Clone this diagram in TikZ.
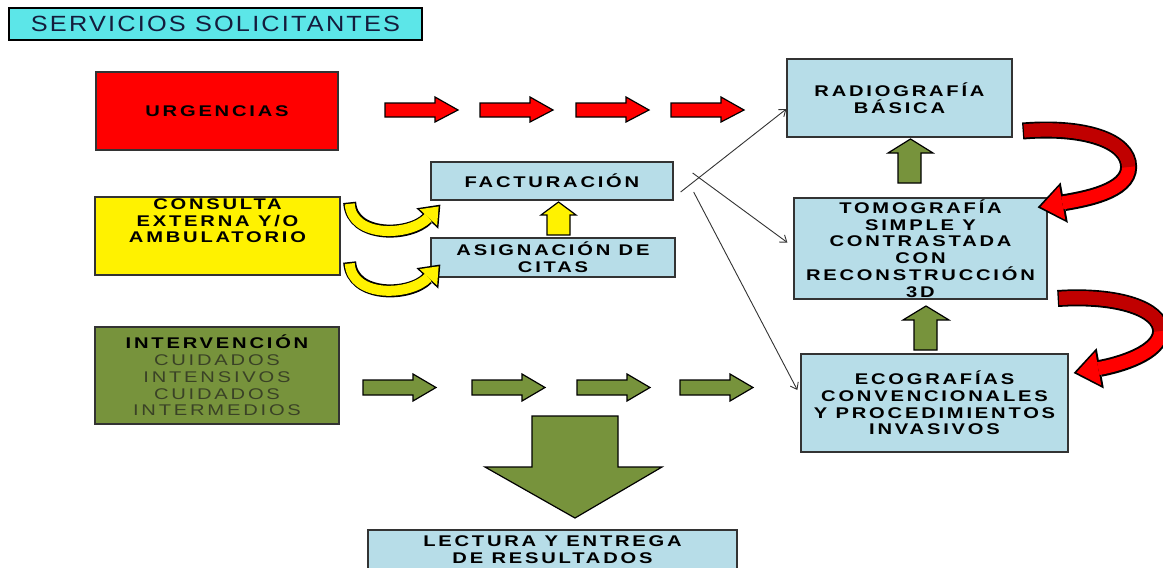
\documentclass[tikz,border=0pt]{standalone}
\usepackage{fontspec}
\usepackage{xcolor}
\usepackage{tikz}
\usetikzlibrary{arrows.meta,calc}

\newfontfamily\boxfont[FakeStretch=1.3,LetterSpace=18]{Liberation Sans}
\newfontfamily\titlefont[FakeStretch=1.15,LetterSpace=10]{Liberation Sans}

\definecolor{boxblue}{RGB}{183,221,232}
\definecolor{titlecyan}{RGB}{92,230,232}
\definecolor{olivebox}{RGB}{119,147,60}
\definecolor{darkred}{RGB}{192,0,0}
\definecolor{mutedtext}{RGB}{58,66,38}
\definecolor{titletext}{RGB}{20,28,60}

\begin{document}
\begin{tikzpicture}[x=1pt,y=-1pt,
    boxtext/.style={align=center, inner sep=0pt, text=black,
      font=\boxfont\bfseries\fontsize{15.5}{16.8}\selectfont},
    box/.style={boxtext, draw=black!80, line width=1.3, fill=boxblue},
    redarrow/.style={draw=black, line width=1.2, fill=red},
    greenarrow/.style={draw=black, line width=1.2, fill=olivebox},
    yellowarrow/.style={draw=black, line width=1.2, fill=yellow},
    thin/.style={draw=black!80, line width=0.9, -{Straight Barb[length=6pt,width=9pt]}},
    redcurve/.style={red, line width=13, shorten <=1.5pt, shorten >=3pt,
      -{Triangle[width=34pt,length=22pt,line width=0pt]},
      preaction={draw=black, line width=17, shorten <=0pt, shorten >=0pt,
        -{Triangle[width=41pt,length=27pt,line width=0pt]}}},
    yellowcurve/.style={yellow, line width=10, shorten <=1.5pt, shorten >=2.5pt,
      -{Triangle[width=24pt,length=15pt,line width=0pt]},
      preaction={draw=black, line width=13, shorten <=0pt, shorten >=0pt,
        -{Triangle[width=30pt,length=19pt,line width=0pt]}}},
  ]
  \useasboundingbox (0,0) rectangle (1163,568);

  % title
  \node[draw=black, line width=2.5, fill=titlecyan, minimum width=413, minimum height=32,
    inner sep=0pt, text=titletext, font=\titlefont\fontsize{22}{24}\selectfont]
    (title) at (215.5,24) {SERVICIOS SOLICITANTES};

  % services on the left
  \node[box, fill=red, minimum width=242, minimum height=78] (urg) at (217,111) {URGENCIAS};
  \node[box, fill=yellow, minimum width=245, minimum height=78,
    label={[boxtext, anchor=north, yshift=-2pt]north:CONSULTA\\EXTERNA Y/O\\AMBULATORIO}]
    (cons) at (217.5,236) {};
  \node[box, fill=olivebox, minimum width=244, minimum height=97] (inter) at (217,375.5)
    {INTERVENCIÓN\\{\mdseries\color{mutedtext}CUIDADOS}\\{\mdseries\color{mutedtext}INTENSIVOS}\\
     {\mdseries\color{mutedtext}CUIDADOS}\\{\mdseries\color{mutedtext}INTERMEDIOS}};

  % middle
  \node[box, minimum width=242, minimum height=38] (fact) at (552,181) {FACTURACIÓN};
  \node[box, minimum width=244, minimum height=39] (asig) at (553,257.5) {ASIGNACIÓN DE\\CITAS};
  \node[box, minimum width=369, minimum height=40] (lect) at (552.5,550) {LECTURA Y ENTREGA\\DE RESULTADOS};

  % studies on the right
  \node[box, minimum width=225, minimum height=78] (radio) at (899.5,98) {RADIOGRAFÍA\\BÁSICA};
  \node[box, minimum width=253, minimum height=101] (tomo) at (920.5,248.5)
    {TOMOGRAFÍA\\SIMPLE Y\\CONTRASTADA\\CON\\RECONSTRUCCIÓN\\3D};
  \node[box, minimum width=267, minimum height=98] (eco) at (934.5,403)
    {ECOGRAFÍAS\\CONVENCIONALES\\Y PROCEDIMIENTOS\\INVASIVOS};

  % straight block arrows
  \foreach \x in {385,480,576,671}
    \draw[redarrow] (\x,103) -- ++(50,0) -- ++(0,-6) -- ++(23,13) -- ++(-23,12) -- ++(0,-5) -- ++(-50,0) -- cycle;
  \foreach \x in {363,472,577,680}
    \draw[greenarrow] (\x,380) -- ++(50,0) -- ++(0,-6) -- ++(23,13.5) -- ++(-23,13.5) -- ++(0,-6) -- ++(-50,0) -- cycle;
  \draw[yellowarrow] (547,235) -- (547,215) -- (541,215) -- (558.5,202) -- (576,215) -- (570,215) -- (570,235) -- cycle;
  \draw[greenarrow] (898,183) -- (898,153) -- (888,153) -- (910.5,139) -- (933,153) -- (921,153) -- (921,183) -- cycle;
  \draw[greenarrow] (914,350) -- (914,320) -- (903,320) -- (926,306) -- (949,320) -- (937,320) -- (937,350) -- cycle;
  \draw[greenarrow] (532,416) -- (618,416) -- (618,467) -- (662,467) -- (575,518) -- (485,467) -- (532,467) -- cycle;

  % curved arrows
  \coordinate (y1a) at ($(cons.north east)+(9,6)$);
  \coordinate (y1b) at ($(fact.south west)+(10,4)$);
  \coordinate (y2a) at ($(cons.east)+(9,26)$);
  \coordinate (y2b) at ($(asig.west)+(10,7)$);
  \draw[yellowcurve] (y1a) .. controls +(2,36) and +(-30,32) .. (y1b);
  \draw[yellowcurve] (y2a) .. controls +(2,36) and +(-30,32) .. (y2b);

  \coordinate (r1a) at ($(radio.east)+(10,33)$);
  \coordinate (r1m) at ($(radio.east)+(116,69)$);
  \coordinate (r1b) at ($(tomo.north east)+(-10,10)$);
  \coordinate (r2a) at ($(tomo.east)+(10,50)$);
  \coordinate (r2m) at ($(tomo.east)+(113,82.5)$);
  \coordinate (r2b) at ($(eco.east)+(5,-30)$);
  \draw[redcurve] (r1a) .. controls +(60,-5) and +(0,-27) .. (r1m) .. controls +(0,25) and +(45,-8) .. (r1b);
  \draw[darkred, line width=13, shorten <=1.5pt] (r1a) .. controls +(60,-5) and +(0,-27) .. (r1m);
  \draw[redcurve] (r2a) .. controls +(60,-4) and +(0,-22) .. (r2m) .. controls +(0,22) and +(45,-8) .. (r2b);
  \draw[darkred, line width=13, shorten <=1.5pt] (r2a) .. controls +(60,-4) and +(0,-22) .. (r2m);

  % thin connectors from facturacion
  \coordinate (f1) at ($(fact.east)+(7,11)$);
  \coordinate (f2) at ($(fact.east)+(19,-8)$);
  \coordinate (f3) at ($(fact.east)+(20,11)$);
  \draw[thin] (f1) -- ($(radio.west)+(0,11)$);
  \draw[thin] (f2) -- ($(tomo.west)+(-6,-6)$);
  \draw[thin] (f3) -- ($(eco.west)+(-3,-13)$);
\end{tikzpicture}
\end{document}
